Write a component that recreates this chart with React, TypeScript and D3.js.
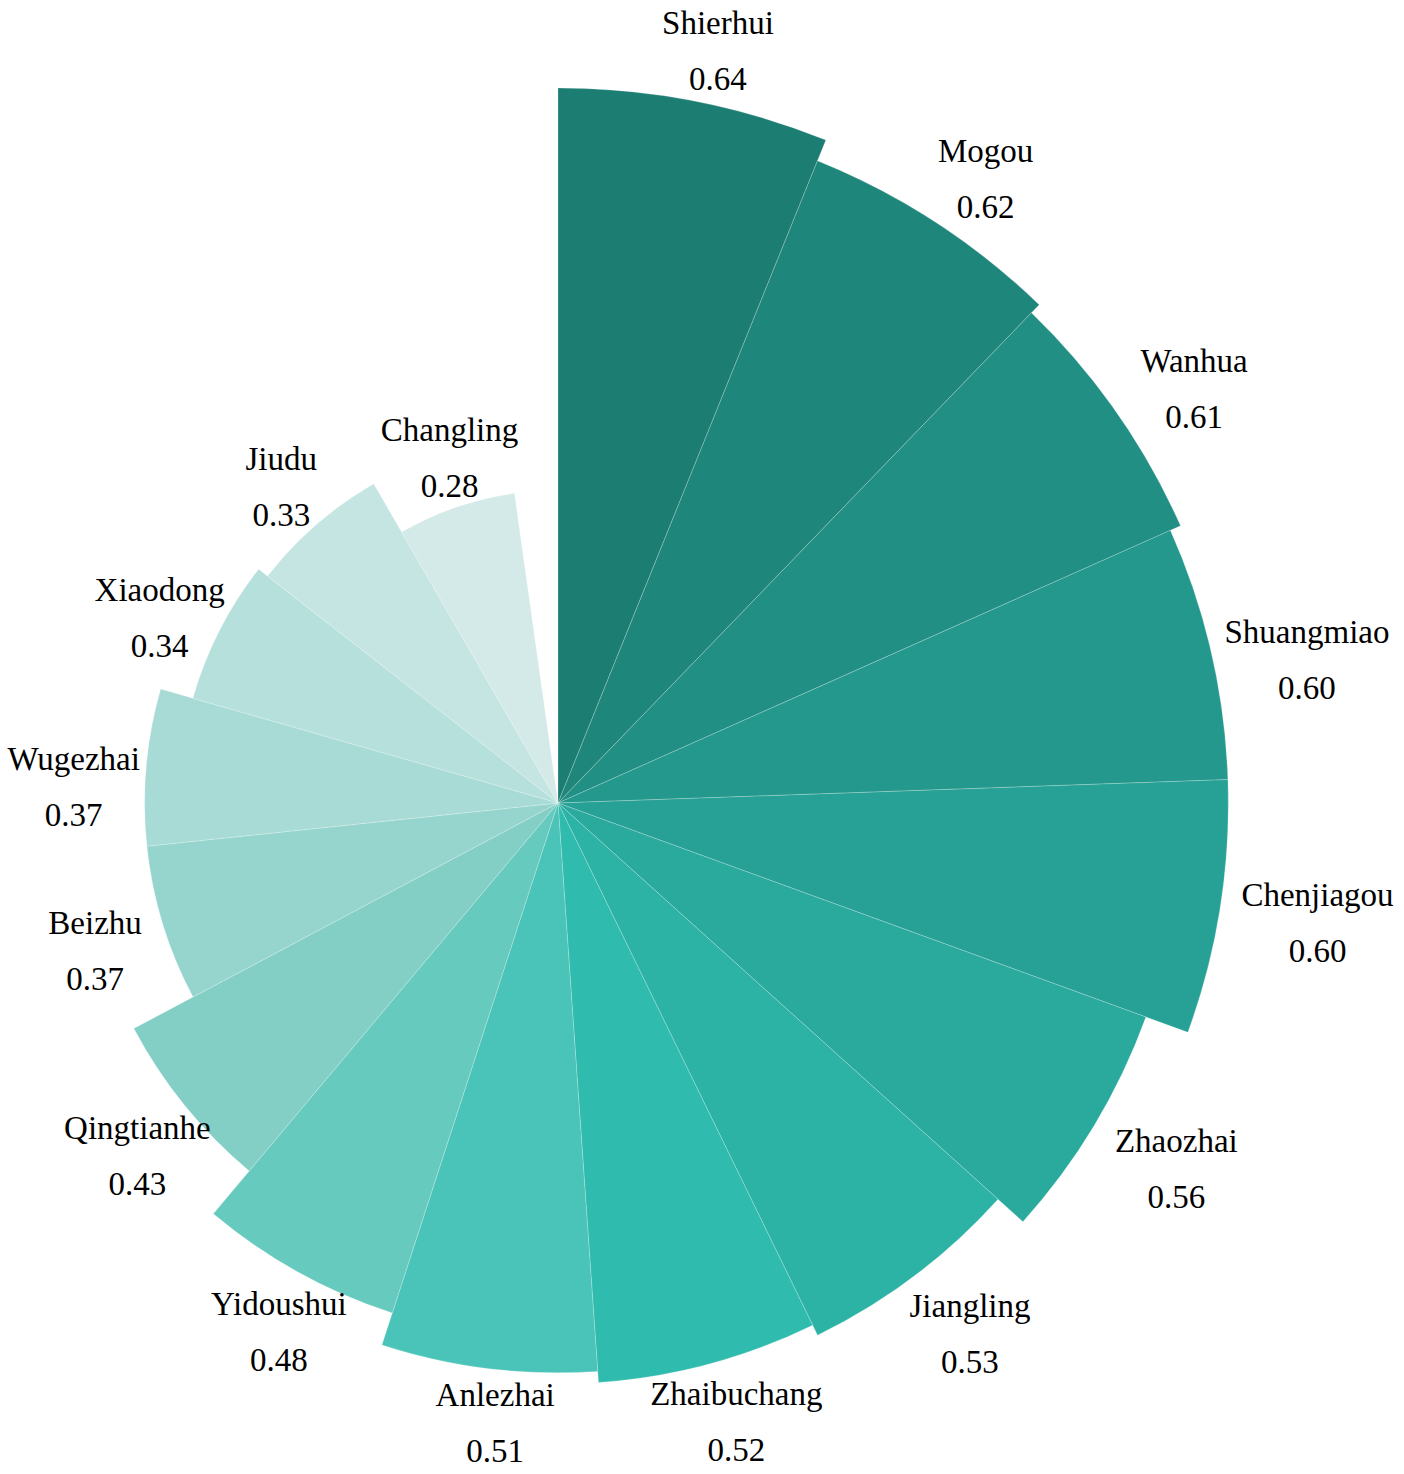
import React from 'react'
import * as d3 from 'd3'

// villages, clockwise from 12 o'clock
const names = [
  'Shierhui', 'Mogou', 'Wanhua', 'Shuangmiao', 'Chenjiagou', 'Zhaozhai',
  'Jiangling', 'Zhaibuchang', 'Anlezhai', 'Yidoushui', 'Qingtianhe',
  'Beizhu', 'Wugezhai', 'Xiaodong', 'Jiudu', 'Changling'
]
const values = [
  0.64, 0.62, 0.61, 0.60, 0.60, 0.56,
  0.53, 0.52, 0.51, 0.48, 0.43,
  0.37, 0.37, 0.34, 0.33, 0.28
]

const width = 1404
const height = 1474
const cx = 558
const cy = 803

export default function App() {
  const data = names.map((name, i) => ({ name, value: values[i], i }))

  // 16 petals of 22deg each, leaving a small gap before 12 o'clock
  const angle = d3
    .scaleBand()
    .domain(names)
    .range([0, (352 / 360) * 2 * Math.PI])

  const radius = d3.scaleLinear().domain([0, 0.64]).range([0, 715])

  const color = d3
    .scaleLinear<string>()
    .domain([0, 7, 8, 10, 12, 15])
    .range(['#1c7d73', '#2fbcae', '#4ac4b8', '#83cfc6', '#a8dbd5', '#d3eae8'])

  const arc = d3
    .arc<any>()
    .innerRadius(0)
    .outerRadius(d => radius(d.value))
    .startAngle(d => angle(d.name))
    .endAngle(d => angle(d.name) + angle.bandwidth())

  return (
    <svg
      width={width}
      height={height}
      style={{ position: 'absolute', left: 0, top: 0, background: '#fff' }}
    >
      <g transform={`translate(${cx},${cy})`}>
        {data.map(d => (
          <path
            key={d.name}
            d={arc(d)}
            fill={color(d.i)}
            stroke="#fff"
            strokeOpacity={0.35}
            strokeWidth={0.6}
          />
        ))}
        {data.map(d => {
          const a = angle(d.name) + angle.bandwidth() / 2
          const s = Math.sin(a)
          const c = Math.cos(a)
          const rl = radius(d.value) + 48 + 38 * Math.abs(s)
          const x = rl * s + 13
          const y = -rl * c + (c > 0 ? 30 * Math.abs(s) - 2 : 2)
          return (
            <g
              key={d.name}
              fontFamily="'Liberation Serif', 'Times New Roman', serif"
              fontSize={33}
              fill="#000"
              textAnchor="middle"
            >
              <text x={x} y={y - 28} dominantBaseline="central">
                {d.name}
              </text>
              <text x={x} y={y + 28} dominantBaseline="central">
                {d3.format('.2f')(d.value)}
              </text>
            </g>
          )
        })}
      </g>
    </svg>
  )
}
